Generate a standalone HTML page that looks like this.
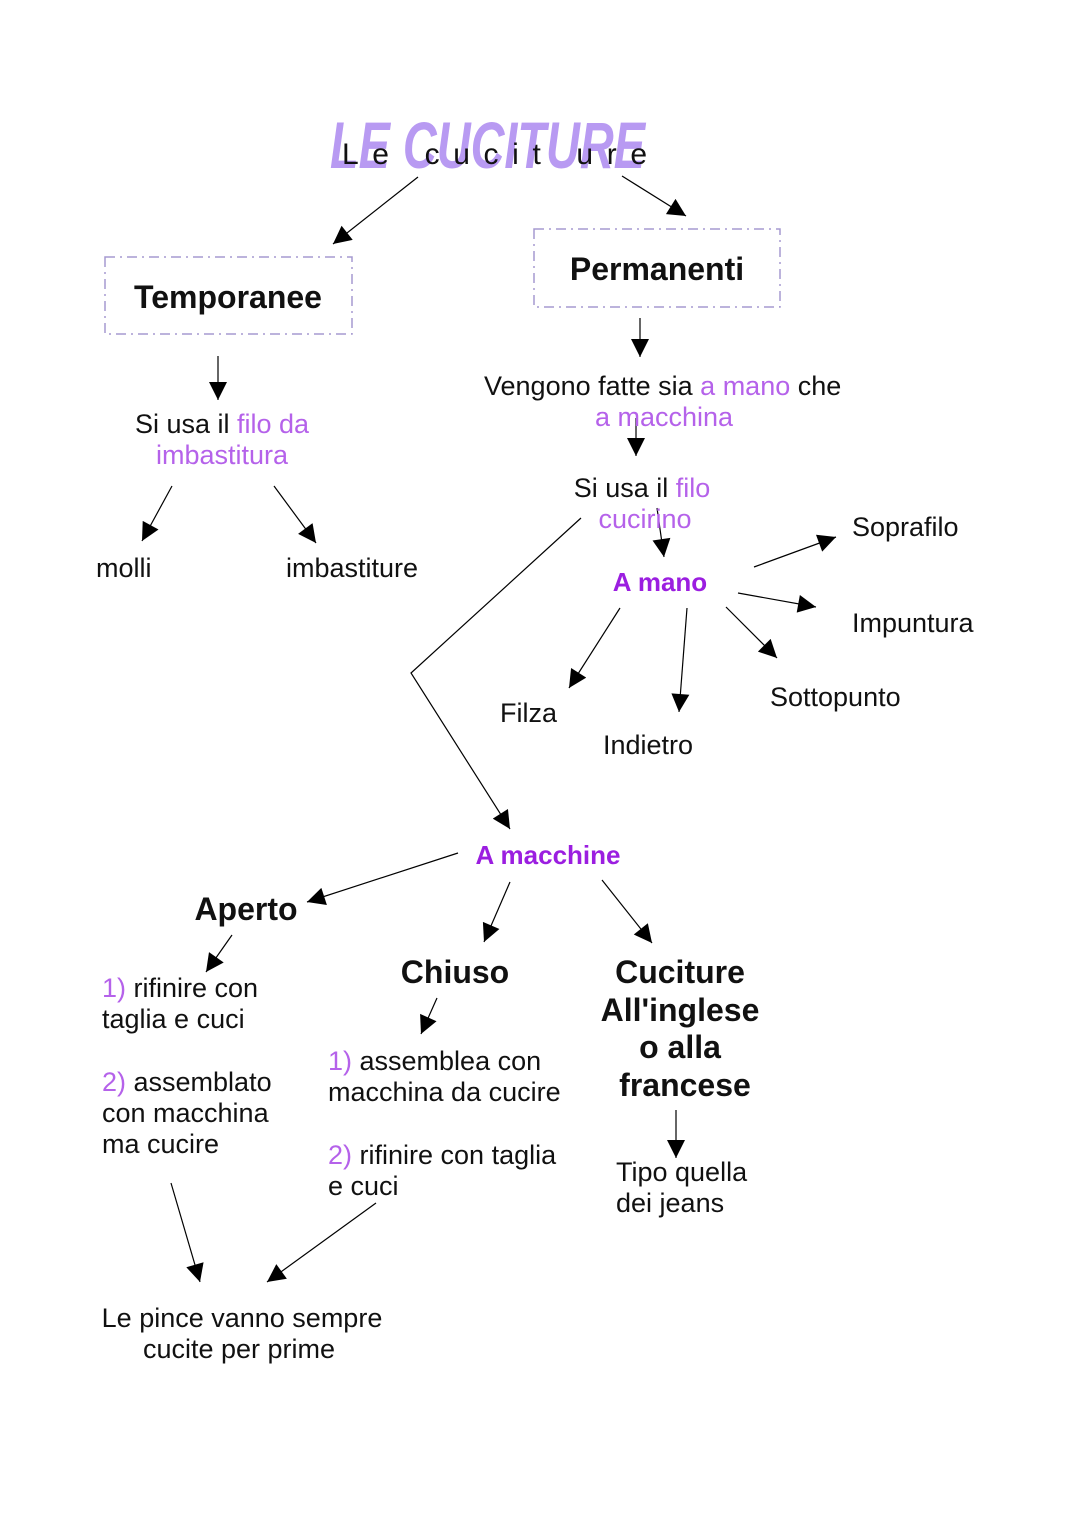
<!DOCTYPE html>
<html><head><meta charset="utf-8"><style>
html,body{margin:0;padding:0;background:#fff}
svg{display:block}
text{font-family:"Liberation Sans",Arial,sans-serif;fill:#111}
.n{font-size:27px}
.b{font-size:32px;font-weight:bold}
.p{fill:#b562ea}
.bp{font-size:26px;font-weight:bold;fill:#9b1ee0}
</style></head><body>
<svg width="1080" height="1528" viewBox="0 0 1080 1528" xmlns="http://www.w3.org/2000/svg">
<defs>
<marker id="a" viewBox="0 0 10 10" refX="10" refY="5" markerWidth="22" markerHeight="18" markerUnits="userSpaceOnUse" orient="auto">
<path d="M0,0 L10,5 L0,10 z" fill="#000"/></marker>
</defs>
<text x="330" y="168" textLength="315" lengthAdjust="spacingAndGlyphs" style="font-size:66px;font-weight:bold;font-style:italic;fill:#b89af2">LE CUCITURE</text>
<text x="342" y="164" textLength="305" lengthAdjust="spacing" style="font-size:30px">Le  cucit ure</text>
<rect x="105" y="257" width="247" height="77" fill="none" stroke="#a59ad0" stroke-width="1.5" stroke-dasharray="10,5,2,5"/>
<rect x="534" y="229" width="246" height="78" fill="none" stroke="#a59ad0" stroke-width="1.5" stroke-dasharray="10,5,2,5"/>
<text class="b" x="228" y="308" text-anchor="middle">Temporanee</text>
<text class="b" x="657" y="280" text-anchor="middle">Permanenti</text>
<g stroke="#000" stroke-width="1.2" fill="none" marker-end="url(#a)">
<line x1="418" y1="177" x2="333" y2="244"/>
<line x1="622" y1="176" x2="686" y2="216"/>
<line x1="218" y1="356" x2="218" y2="400"/>
<line x1="640" y1="318" x2="640" y2="357"/>
<line x1="172" y1="486" x2="142" y2="541"/>
<line x1="274" y1="486" x2="316" y2="543"/>
<line x1="636" y1="418" x2="636" y2="456"/>
<line x1="657" y1="508" x2="664" y2="557"/>
<polyline points="581,518 411,673 510,829"/>
<line x1="754" y1="567" x2="836" y2="537"/>
<line x1="738" y1="593" x2="816" y2="607"/>
<line x1="726" y1="607" x2="777" y2="658"/>
<line x1="687" y1="608" x2="679" y2="712"/>
<line x1="620" y1="608" x2="569" y2="688"/>
<line x1="458" y1="853" x2="307" y2="902"/>
<line x1="510" y1="882" x2="484" y2="942"/>
<line x1="602" y1="880" x2="652" y2="943"/>
<line x1="232" y1="935" x2="206" y2="972"/>
<line x1="437" y1="998" x2="421" y2="1034"/>
<line x1="676" y1="1110" x2="676" y2="1158"/>
<line x1="171" y1="1183" x2="200" y2="1282"/>
<line x1="376" y1="1203" x2="267" y2="1282"/>
</g>
<text class="n" x="222" y="433" text-anchor="middle">Si usa il <tspan class="p">filo da</tspan></text>
<text class="n p" x="222" y="464" text-anchor="middle">imbastitura</text>
<text class="n" x="96" y="577">molli</text>
<text class="n" x="286" y="577">imbastiture</text>
<text class="n" x="484" y="395">Vengono fatte sia <tspan class="p">a mano</tspan> che</text>
<text class="n p" x="664" y="426" text-anchor="middle">a macchina</text>
<text class="n" x="642" y="497" text-anchor="middle">Si usa il <tspan class="p">filo</tspan></text>
<text class="n p" x="645" y="528" text-anchor="middle">cucirino</text>
<text class="bp" x="660" y="591" text-anchor="middle">A mano</text>
<text class="n" x="852" y="536">Soprafilo</text>
<text class="n" x="852" y="632">Impuntura</text>
<text class="n" x="770" y="706">Sottopunto</text>
<text class="n" x="500" y="722">Filza</text>
<text class="n" x="603" y="754">Indietro</text>
<text class="bp" x="548" y="864" text-anchor="middle">A macchine</text>
<text class="b" x="246" y="920" text-anchor="middle">Aperto</text>
<text class="b" x="455" y="983" text-anchor="middle">Chiuso</text>
<text class="b" x="680" y="983" text-anchor="middle">Cuciture</text>
<text class="b" x="680" y="1021" text-anchor="middle">All'inglese</text>
<text class="b" x="680" y="1058" text-anchor="middle">o alla</text>
<text class="b" x="685" y="1096" text-anchor="middle">francese</text>
<text class="n" x="102" y="997"><tspan class="p">1)</tspan> rifinire con</text>
<text class="n" x="102" y="1028">taglia e cuci</text>
<text class="n" x="102" y="1091"><tspan class="p">2)</tspan> assemblato</text>
<text class="n" x="102" y="1122">con macchina</text>
<text class="n" x="102" y="1153">ma cucire</text>
<text class="n" x="328" y="1070"><tspan class="p">1)</tspan> assemblea con</text>
<text class="n" x="328" y="1101">macchina da cucire</text>
<text class="n" x="328" y="1164"><tspan class="p">2)</tspan> rifinire con taglia</text>
<text class="n" x="328" y="1195">e cuci</text>
<text class="n" x="616" y="1181">Tipo quella</text>
<text class="n" x="616" y="1212">dei jeans</text>
<text class="n" x="242" y="1327" text-anchor="middle">Le pince vanno sempre</text>
<text class="n" x="239" y="1358" text-anchor="middle">cucite per prime</text>
</svg>
</body></html>
